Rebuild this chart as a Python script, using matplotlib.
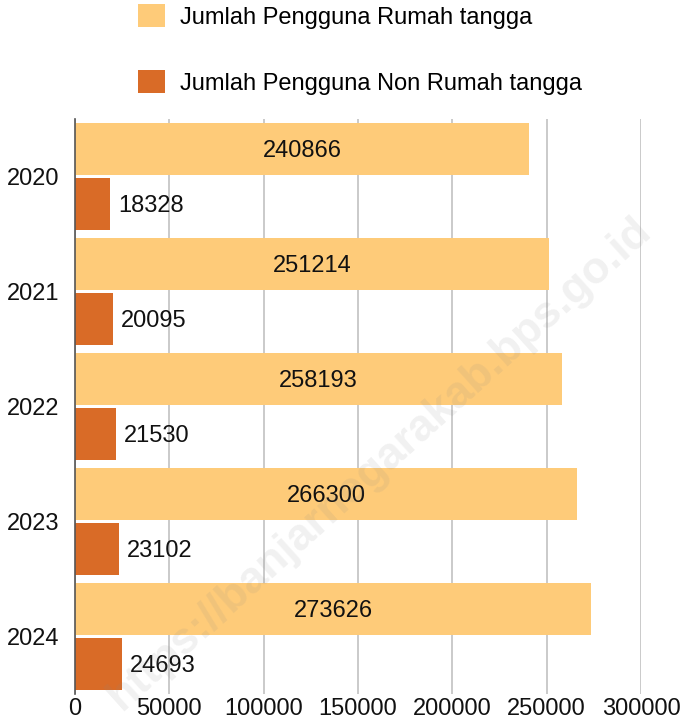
import matplotlib.pyplot as plt
import numpy as np

years = ["2020", "2021", "2022", "2023", "2024"]
rumah_tangga = [240866, 251214, 258193, 266300, 273626]
non_rumah_tangga = [18328, 20095, 21530, 23102, 24693]
x_ticks = [0, 50000, 100000, 150000, 200000, 250000, 300000]

plt.rcParams["font.family"] = ["Liberation Sans", "DejaVu Sans"]

yellow = "#FECB79"
orange = "#D96B27"
fs = 17

fig = plt.figure(figsize=(6.84, 7.24), dpi=100)
ax = fig.add_axes([75 / 684, 1 - 694 / 724, (641 - 75) / 684, 575 / 724])

pos = np.arange(len(years))
bars1 = ax.barh(pos - 0.24, rumah_tangga, height=0.45, color=yellow,
                label="Jumlah Pengguna Rumah tangga", zorder=2)
bars2 = ax.barh(pos + 0.24, non_rumah_tangga, height=0.45, color=orange,
                label="Jumlah Pengguna Non Rumah tangga", zorder=2)

for b, v in zip(bars1, rumah_tangga):
    ax.text(v / 2, b.get_y() + b.get_height() / 2 + 0.02, str(v),
            ha="center", va="center", fontsize=fs, color="#111111", zorder=3)
for b, v in zip(bars2, non_rumah_tangga):
    ax.annotate(str(v), (v, b.get_y() + b.get_height() / 2 + 0.02),
                xytext=(6, 0), textcoords="offset points",
                ha="left", va="center", fontsize=fs, color="#111111", zorder=3)

ax.set_xlim(0, 300000)
ax.set_ylim(4.5, -0.5)
ax.set_xticks(x_ticks)
ax.set_xticklabels([str(t) for t in x_ticks])
ax.set_yticks(pos)
ax.set_yticklabels(years)
ax.tick_params(length=0, labelsize=fs, labelcolor="#111111")
ax.tick_params(axis="x", pad=3)
ax.tick_params(axis="y", pad=11)

ax.grid(axis="x", color="#c6c6c6", linewidth=1.3, zorder=0)
ax.set_axisbelow(True)
for s in ["top", "right", "bottom"]:
    ax.spines[s].set_visible(False)
ax.spines["left"].set_color("#555555")
ax.spines["left"].set_linewidth(1.2)
ax.spines["left"].set_zorder(4)

fig.legend(loc="upper left", bbox_to_anchor=(138 / 684, 1 - 4 / 724),
           frameon=False, fontsize=fs, handlelength=1.15, handleheight=1.15,
           handletextpad=0.65, labelspacing=1.75, borderpad=0, borderaxespad=0)

# watermark
fig.text(0.555, 0.36, "https://banjarnegarakab.bps.go.id", rotation=42,
         ha="center", va="center", fontsize=32, fontweight="bold",
         color="#888888", alpha=0.12, zorder=10)

fig.savefig("out.png", dpi=100)
